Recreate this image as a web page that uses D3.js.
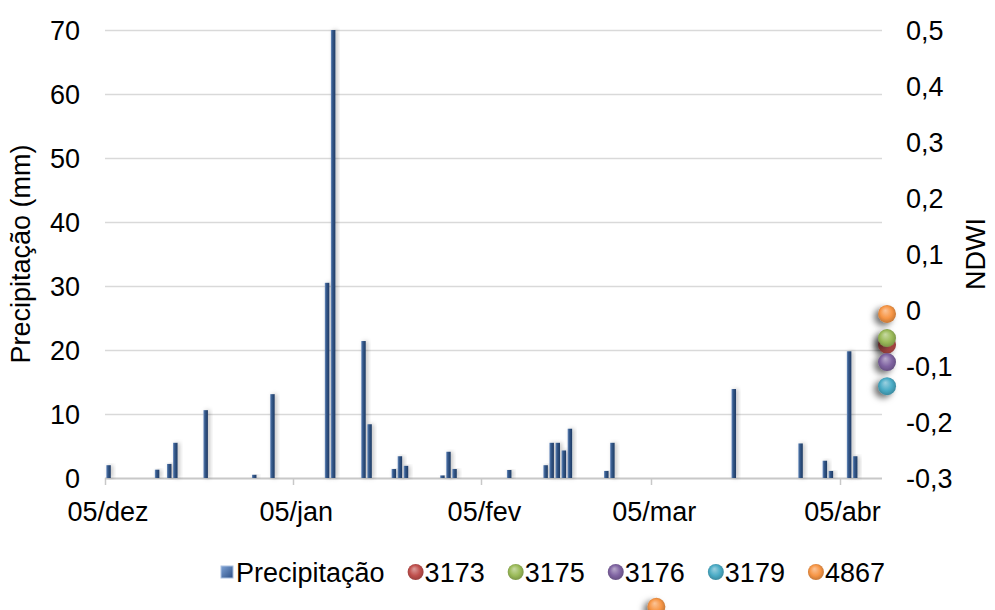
<!DOCTYPE html>
<html>
<head>
<meta charset="utf-8">
<script src="https://cdn.jsdelivr.net/npm/d3@7"></script>
<style>
  body { margin: 0; background: #fff; }
  svg text { font-family: "Liberation Sans", Arial, sans-serif; fill: #000; }
</style>
</head>
<body>
<div id="chart"></div>
<script>
// rainfall per day (mm)
const rainDates = [
  "2014-12-05","2014-12-13","2014-12-15","2014-12-16","2014-12-21","2014-12-29",
  "2015-01-01","2015-01-10","2015-01-11","2015-01-16","2015-01-17","2015-01-21",
  "2015-01-22","2015-01-23","2015-01-29","2015-01-30","2015-01-31","2015-02-09",
  "2015-02-15","2015-02-16","2015-02-17","2015-02-18","2015-02-19","2015-02-25",
  "2015-02-26","2015-03-18","2015-03-29","2015-04-02","2015-04-03","2015-04-06",
  "2015-04-07"
];
const rainValues = [
  2.0, 1.3, 2.2, 5.5, 10.6, 0.5,
  13.1, 30.5, 70, 21.4, 8.4, 1.4,
  3.4, 1.9, 0.4, 4.1, 1.4, 1.25,
  2.0, 5.5, 5.5, 4.3, 7.7, 1.1,
  5.5, 13.9, 5.4, 2.7, 1.1, 19.8,
  3.4
];

// NDWI points
const ndwiSeries = ["3173", "3175", "3176", "3179", "4867"];
const ndwiColors = ["#c0504d", "#9bbb59", "#8064a2", "#4bacc6", "#f79646"];
const ndwiDates = {
  "3173": ["2015-04-12"],
  "3175": ["2015-04-12"],
  "3176": ["2015-04-12"],
  "3179": ["2015-04-12"],
  "4867": ["2015-03-05", "2015-04-12"]
};
const ndwiValues = {
  "3173": [-0.062],
  "3175": [-0.05],
  "3176": [-0.093],
  "3179": [-0.136],
  "4867": [-0.53, -0.007]
};

const xTickDates = ["2014-12-05","2015-01-05","2015-02-05","2015-03-05","2015-04-05"];
const xTickLabels = ["05/dez","05/jan","05/fev","05/mar","05/abr"];
const leftTicks = [0, 10, 20, 30, 40, 50, 60, 70];
const rightTicks = [0.5, 0.4, 0.3, 0.2, 0.1, 0, -0.1, -0.2, -0.3];

const W = 995, H = 610;
const plot = {left: 105, right: 882, top: 30, bottom: 478};
const parse = d3.utcParse("%Y-%m-%d");
const fontSize = 27;

const x = d3.scaleUtc()
  .domain([parse("2014-12-05"), parse("2015-04-12")])
  .range([plot.left, plot.right]);
const dayW = (plot.right - plot.left) / d3.utcDay.count(x.domain()[0], x.domain()[1]);
const yL = d3.scaleLinear().domain([0, 70]).range([plot.bottom, plot.top]);
const yR = d3.scaleLinear().domain([-0.3, 0.5]).range([plot.bottom, plot.top]);

const svg = d3.select("#chart").append("svg")
  .attr("width", W).attr("height", H);

const defs = svg.append("defs");

const barGrad = defs.append("linearGradient").attr("id", "barGrad")
  .attr("x1", "0").attr("x2", "1").attr("y1", "0").attr("y2", "0");
barGrad.append("stop").attr("offset", "0").attr("stop-color", "#6f8fbf");
barGrad.append("stop").attr("offset", "0.35").attr("stop-color", "#355a8c");
barGrad.append("stop").attr("offset", "1").attr("stop-color", "#1f3a63");

const keyGrad = defs.append("linearGradient").attr("id", "keyGrad")
  .attr("x1", "0").attr("x2", "1").attr("y1", "0").attr("y2", "1");
keyGrad.append("stop").attr("offset", "0").attr("stop-color", "#7fa3d6");
keyGrad.append("stop").attr("offset", "1").attr("stop-color", "#2c4f86");

defs.append("filter").attr("id", "barShadow")
  .attr("x", "-100%").attr("y", "-10%").attr("width", "300%").attr("height", "120%")
  .append("feDropShadow")
  .attr("dx", 2).attr("dy", 0).attr("stdDeviation", 2)
  .attr("flood-color", "#000").attr("flood-opacity", 0.25);

defs.append("filter").attr("id", "ballShadow")
  .attr("x", "-100%").attr("y", "-100%").attr("width", "300%").attr("height", "300%")
  .append("feDropShadow")
  .attr("dx", -4).attr("dy", 3).attr("stdDeviation", 3)
  .attr("flood-color", "#000").attr("flood-opacity", 0.55);

ndwiColors.forEach(function (c, i) {
  const g = defs.append("radialGradient").attr("id", "ball" + i)
    .attr("cx", "0.5").attr("cy", "0.5").attr("r", "0.6")
    .attr("fx", "0.4").attr("fy", "0.3");
  g.append("stop").attr("offset", "0").attr("stop-color", d3.interpolateRgb(c, "#fff")(0.45));
  g.append("stop").attr("offset", "0.55").attr("stop-color", c);
  g.append("stop").attr("offset", "1").attr("stop-color", d3.color(c).darker(0.9));
});

// gridlines
svg.append("g")
  .selectAll("line")
  .data(leftTicks)
  .join("line")
  .attr("x1", plot.left).attr("x2", plot.right)
  .attr("y1", d => Math.round(yL(d)) + 0.5).attr("y2", d => Math.round(yL(d)) + 0.5)
  .attr("stroke", d => d === 0 ? "#c8c8c8" : "#d9d9d9")
  .attr("stroke-width", d => d === 0 ? 2 : 1.5);

// x tick marks
svg.append("g")
  .selectAll("line")
  .data(xTickDates)
  .join("line")
  .attr("x1", d => Math.round(x(parse(d))) + 0.5)
  .attr("x2", d => Math.round(x(parse(d))) + 0.5)
  .attr("y1", plot.bottom).attr("y2", plot.bottom + 7)
  .attr("stroke", "#c8c8c8").attr("stroke-width", 1.5);

// x labels
svg.append("g")
  .selectAll("text")
  .data(xTickDates)
  .join("text")
  .attr("x", d => x(parse(d)) + dayW / 2)
  .attr("y", 521)
  .attr("text-anchor", "middle")
  .attr("font-size", fontSize)
  .text((d, i) => xTickLabels[i]);

// left axis labels
svg.append("g")
  .selectAll("text")
  .data(leftTicks)
  .join("text")
  .attr("x", 80)
  .attr("y", d => yL(d))
  .attr("dy", "0.36em")
  .attr("text-anchor", "end")
  .attr("font-size", fontSize)
  .text(d => d);

// right axis labels
const fmtR = d => d === 0 ? "0" : d3.format(".1f")(d).replace(".", ",").replace("−", "-");
svg.append("g")
  .selectAll("text")
  .data(rightTicks)
  .join("text")
  .attr("x", 906)
  .attr("y", d => yR(d))
  .attr("dy", "0.36em")
  .attr("text-anchor", "start")
  .attr("font-size", fontSize)
  .text(fmtR);

// axis titles
svg.append("text")
  .attr("transform", "translate(30," + ((plot.top + plot.bottom) / 2) + ") rotate(-90)")
  .attr("text-anchor", "middle")
  .attr("font-size", fontSize)
  .text("Precipitação (mm)");

svg.append("text")
  .attr("transform", "translate(985," + ((plot.top + plot.bottom) / 2) + ") rotate(-90)")
  .attr("text-anchor", "middle")
  .attr("font-size", fontSize)
  .text("NDWI");

// bars
const barW = 4.5;
svg.append("g")
  .selectAll("rect")
  .data(rainDates.map((d, i) => ({date: parse(d), v: rainValues[i]})))
  .join("rect")
  .attr("x", d => x(d.date) + dayW / 2 + 0.5 - barW / 2)
  .attr("width", barW)
  .attr("y", d => yL(d.v))
  .attr("height", d => yL(0) - yL(d.v))
  .attr("fill", "url(#barGrad)")
  .attr("filter", "url(#barShadow)");

// NDWI points
ndwiSeries.forEach(function (s, i) {
  svg.append("g")
    .selectAll("circle")
    .data(ndwiDates[s].map((d, j) => ({date: parse(d), v: ndwiValues[s][j]})))
    .join("circle")
    .attr("cx", d => x(d.date) + dayW / 2 + 2)
    .attr("cy", d => yR(d.v))
    .attr("r", 9)
    .attr("fill", "url(#ball" + i + ")")
    .attr("filter", "url(#ballShadow)");
});

// legend: laid out left to right, then shifted so it ends at the plot's right edge
const legendY = 572;
const legend = svg.append("g");
const items = [{name: "Precipitação", kind: "bar"}]
  .concat(ndwiSeries.map((s, i) => ({name: s, kind: "ball", i: i})));
let lx = 0;
items.forEach(function (it) {
  const g = legend.append("g").attr("transform", "translate(" + lx + ",0)");
  if (it.kind === "bar") {
    g.append("rect")
      .attr("x", 1).attr("y", legendY - 6).attr("width", 12).attr("height", 12)
      .attr("fill", "url(#keyGrad)").attr("stroke", "#a9c0e0").attr("stroke-width", 1);
  } else {
    g.append("circle")
      .attr("cx", 7).attr("cy", legendY).attr("r", 8)
      .attr("fill", "url(#ball" + it.i + ")");
  }
  const t = g.append("text")
    .attr("x", 16).attr("y", legendY).attr("dy", "0.36em")
    .attr("font-size", fontSize)
    .text(it.name);
  lx += 16 + t.node().getComputedTextLength() + 24;
});
const legendW = lx - 24;
legend.attr("transform", "translate(" + (885 - legendW) + ",0)");
</script>
</body>
</html>
